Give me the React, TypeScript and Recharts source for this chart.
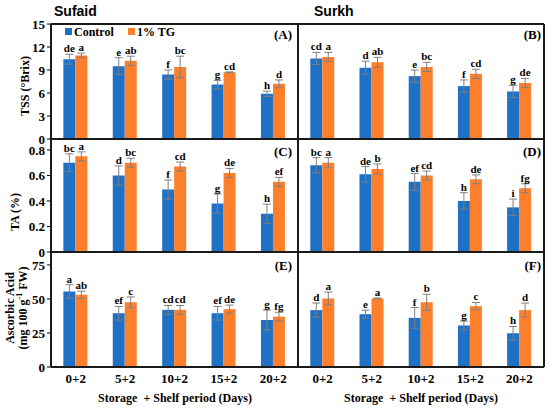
import React from "react";
import { BarChart, Bar, XAxis, YAxis, ErrorBar, LabelList } from "recharts";

const periods = ["0+2", "5+2", "10+2", "15+2", "20+2"];

// (A) Sufaid TSS
const tssSufaidCtrl = [10.4, 9.5, 8.4, 7.1, 5.9];
const tssSufaidCtrlErr = [0.65, 1.1, 0.6, 0.55, 0.35];
const tssSufaidTg = [10.9, 10.2, 9.4, 8.7, 7.2];
const tssSufaidTgErr = [0.3, 0.6, 1.4, 0.05, 0.5];
const tssSufaidCtrlLet = ["de", "e", "f", "g", "h"];
const tssSufaidTgLet = ["a", "ab", "bc", "cd", "d"];

// (B) Surkh TSS
const tssSurkhCtrl = [10.5, 9.3, 8.2, 6.9, 6.2];
const tssSurkhCtrlErr = [0.8, 0.85, 0.8, 0.8, 0.8];
const tssSurkhTg = [10.7, 10.0, 9.4, 8.5, 7.3];
const tssSurkhTgErr = [0.6, 0.65, 0.6, 0.6, 0.6];
const tssSurkhCtrlLet = ["cd", "d", "e", "f", "g"];
const tssSurkhTgLet = ["a", "ab", "bc", "cd", "de"];

// (C) Sufaid TA
const taSufaidCtrl = [0.7, 0.6, 0.49, 0.38, 0.3];
const taSufaidCtrlErr = [0.07, 0.075, 0.075, 0.075, 0.075];
const taSufaidTg = [0.75, 0.7, 0.67, 0.62, 0.55];
const taSufaidTgErr = [0.035, 0.035, 0.035, 0.035, 0.035];
const taSufaidCtrlLet = ["bc", "d", "f", "g", "h"];
const taSufaidTgLet = ["a", "bc", "cd", "de", "ef"];

// (D) Surkh TA
const taSurkhCtrl = [0.68, 0.61, 0.55, 0.4, 0.35];
const taSurkhCtrlErr = [0.06, 0.06, 0.065, 0.065, 0.065];
const taSurkhTg = [0.7, 0.65, 0.6, 0.57, 0.5];
const taSurkhTgErr = [0.04, 0.04, 0.035, 0.035, 0.035];
const taSurkhCtrlLet = ["bc", "de", "ef", "h", "i"];
const taSurkhTgLet = ["a", "b", "cd", "de", "fg"];

// (E) Sufaid ascorbic acid
const aaSufaidCtrl = [55.5, 39.5, 42, 39.5, 34.5];
const aaSufaidCtrlErr = [5, 5, 3.2, 5, 7.3];
const aaSufaidTg = [53, 47.5, 42, 42.5, 37];
const aaSufaidTgErr = [2.7, 4, 3.2, 3, 3.2];
const aaSufaidCtrlLet = ["a", "ef", "cd", "ef", "g"];
const aaSufaidTgLet = ["ab", "c", "cd", "de", "fg"];

// (F) Surkh ascorbic acid
const aaSurkhCtrl = [41.8, 38.8, 36.1, 30.5, 24.8];
const aaSurkhCtrlErr = [5.2, 3, 7.6, 3.2, 5];
const aaSurkhTg = [50.4, 50.4, 47.5, 44.7, 41.8];
const aaSurkhTgErr = [4.7, 0.3, 5.9, 2.7, 5.2];
const aaSurkhCtrlLet = ["d", "e", "f", "g", "h"];
const aaSurkhTgLet = ["a", "a", "b", "c", "d"];

const tssTicks = [0, 3, 6, 9, 12, 15];
const taTicks = [0, 0.2, 0.4, 0.6, 0.8];
const aaTicks = [0, 25, 50, 75];
const edgeTicks = [0, 1, 2, 3, 4, 5];

const BLUE = "#1f71c6";
const ORANGE = "#fd7f2c";
const SERIF = "'Liberation Serif', 'Times New Roman', serif";
const SANS = "'Liberation Sans', Arial, sans-serif";

function makeRows(c: number[], cErr: number[], t: number[], tErr: number[], cLet: string[], tLet: string[]) {
  return periods.map((p, i) => ({
    period: p,
    c: c[i],
    cErr: cErr[i],
    t: t[i],
    tErr: tErr[i],
    cLet: cLet[i],
    tLet: tLet[i],
  }));
}

const PAD_T = 10;
const PAD_R = 4;
const YW = 40;
const tickStyle = { fontSize: 13, fontWeight: 700, fill: "#000", fontFamily: SERIF };

function Panel({ left, top, w, h, rows, yMax, ticks, showY, showX }: any) {
  const padL = showY ? YW : 0;
  const xh = showX ? 24 : 0;
  const padB = showX ? 28 : 10;

  const letter = (errKey: string) => (props: any) => {
    const vb = props.viewBox || props;
    const x = vb.x ?? props.x;
    const y = vb.y ?? props.y;
    const width = vb.width ?? props.width;
    const err = rows[props.index] ? rows[props.index][errKey] : 0;
    const errPx = (err / yMax) * h;
    return (
      <text
        x={x + width / 2}
        y={y - errPx - 2}
        textAnchor="middle"
        fontSize={11}
        fontWeight={700}
        fontFamily={SERIF}
        fill="#000"
      >
        {props.value}
      </text>
    );
  };

  return (
    <div style={{ position: "absolute", left: left - padL, top: top - PAD_T }}>
      <BarChart
        width={w + padL + PAD_R}
        height={h + PAD_T + padB}
        data={rows}
        margin={{ top: PAD_T, right: PAD_R, left: 0, bottom: padB - xh }}
        barCategoryGap="25%"
        barGap={0}
      >
        {showX && (
          <XAxis
            xAxisId="edge"
            type="number"
            domain={[0, 5]}
            ticks={edgeTicks}
            allowDataOverflow
            height={0}
            axisLine={false}
            tick={false}
            tickSize={4}
            tickLine={{ stroke: "#000" }}
          />
        )}
        <XAxis
          xAxisId="cat"
          dataKey="period"
          hide={!showX}
          height={xh}
          axisLine={false}
          tickLine={false}
          tickSize={0}
          tickMargin={7}
          tick={tickStyle}
          interval={0}
        />
        <YAxis
          hide={!showY}
          width={YW}
          domain={[0, yMax]}
          ticks={ticks}
          allowDataOverflow
          axisLine={false}
          tickSize={4}
          tickLine={{ stroke: "#000" }}
          tick={tickStyle}
          interval={0}
        />
        <Bar xAxisId="cat" dataKey="c" fill={BLUE} isAnimationActive={false}>
          <ErrorBar dataKey="cErr" width={4} stroke="#7f7f7f" strokeWidth={1} isAnimationActive={false} />
          <LabelList dataKey="cLet" content={letter("cErr")} />
        </Bar>
        <Bar xAxisId="cat" dataKey="t" fill={ORANGE} isAnimationActive={false}>
          <ErrorBar dataKey="tErr" width={4} stroke="#7f7f7f" strokeWidth={1} isAnimationActive={false} />
          <LabelList dataKey="tLet" content={letter("tErr")} />
        </Bar>
      </BarChart>
    </div>
  );
}

function Txt({ x, y, children, size = 13, anchor = "left", family = SERIF, rotate = false }: any) {
  const tx = anchor === "center" ? "-50%" : anchor === "right" ? "-100%" : "0";
  return (
    <div
      style={{
        position: "absolute",
        left: x,
        top: y,
        transform: rotate ? "translate(-50%, -50%) rotate(-90deg)" : `translate(${tx}, -50%)`,
        fontFamily: family,
        fontWeight: 700,
        fontSize: size,
        lineHeight: `${size + 1}px`,
        whiteSpace: "nowrap",
        textAlign: "center",
        color: "#000",
      }}
    >
      {children}
    </div>
  );
}

function HLine({ y }: { y: number }) {
  return <div style={{ position: "absolute", left: 51, top: y - 0.75, width: 493, height: 1.5, background: "#1a1a1a" }} />;
}
function VLine({ x }: { x: number }) {
  return <div style={{ position: "absolute", left: x - 0.75, top: 24, width: 1.5, height: 343, background: "#1a1a1a" }} />;
}

const LX = 51;
const RX = 298;
const CW = 247;

export default function App() {
  return (
    <div style={{ position: "absolute", left: 0, top: 0, width: 550, height: 409, background: "#fff", overflow: "hidden" }}>
      <Panel left={LX} top={24} w={CW} h={115} yMax={15} ticks={tssTicks} showY showX={false}
        rows={makeRows(tssSufaidCtrl, tssSufaidCtrlErr, tssSufaidTg, tssSufaidTgErr, tssSufaidCtrlLet, tssSufaidTgLet)} />
      <Panel left={RX} top={24} w={246} h={115} yMax={15} ticks={tssTicks} showY={false} showX={false}
        rows={makeRows(tssSurkhCtrl, tssSurkhCtrlErr, tssSurkhTg, tssSurkhTgErr, tssSurkhCtrlLet, tssSurkhTgLet)} />
      <Panel left={LX} top={139} w={CW} h={113} yMax={0.886} ticks={taTicks} showY showX={false}
        rows={makeRows(taSufaidCtrl, taSufaidCtrlErr, taSufaidTg, taSufaidTgErr, taSufaidCtrlLet, taSufaidTgLet)} />
      <Panel left={RX} top={139} w={246} h={113} yMax={0.886} ticks={taTicks} showY={false} showX={false}
        rows={makeRows(taSurkhCtrl, taSurkhCtrlErr, taSurkhTg, taSurkhTgErr, taSurkhCtrlLet, taSurkhTgLet)} />
      <Panel left={LX} top={252} w={CW} h={115} yMax={84.5} ticks={aaTicks} showY showX
        rows={makeRows(aaSufaidCtrl, aaSufaidCtrlErr, aaSufaidTg, aaSufaidTgErr, aaSufaidCtrlLet, aaSufaidTgLet)} />
      <Panel left={RX} top={252} w={246} h={115} yMax={84.5} ticks={aaTicks} showY={false} showX
        rows={makeRows(aaSurkhCtrl, aaSurkhCtrlErr, aaSurkhTg, aaSurkhTgErr, aaSurkhCtrlLet, aaSurkhTgLet)} />

      <HLine y={24} />
      <HLine y={139} />
      <HLine y={252} />
      <HLine y={367} />
      <VLine x={51} />
      <VLine x={298} />
      <VLine x={544} />

      <Txt x={54} y={11} size={14} family={SANS}>Sufaid</Txt>
      <Txt x={314} y={11} size={14} family={SANS}>Surkh</Txt>

      <div style={{ position: "absolute", left: 65, top: 28, width: 7, height: 7, background: BLUE }} />
      <Txt x={74} y={32} size={12}>Control</Txt>
      <div style={{ position: "absolute", left: 128, top: 28, width: 7, height: 7, background: ORANGE }} />
      <Txt x={137} y={32} size={12}>1% TG</Txt>

      <Txt x={292} y={35} anchor="right">(A)</Txt>
      <Txt x={541} y={35} anchor="right">(B)</Txt>
      <Txt x={292} y={152} anchor="right">(C)</Txt>
      <Txt x={541} y={152} anchor="right">(D)</Txt>
      <Txt x={292} y={266} anchor="right">(E)</Txt>
      <Txt x={541} y={266} anchor="right">(F)</Txt>

      <Txt x={25} y={86} size={12} rotate>TSS (°Brix)</Txt>
      <Txt x={15} y={212} size={12} rotate>TA (%)</Txt>
      <Txt x={17} y={308} size={12} rotate>
        Ascorbic Acid
        <br />
        (mg 100 g<sup style={{ fontSize: 8, lineHeight: 0 }}>-1</sup> FW)
      </Txt>

      <Txt x={175} y={398} size={12} anchor="center">Storage&nbsp; + Shelf period (Days)</Txt>
      <Txt x={421} y={398} size={12} anchor="center">Storage&nbsp; + Shelf period (Days)</Txt>
    </div>
  );
}
